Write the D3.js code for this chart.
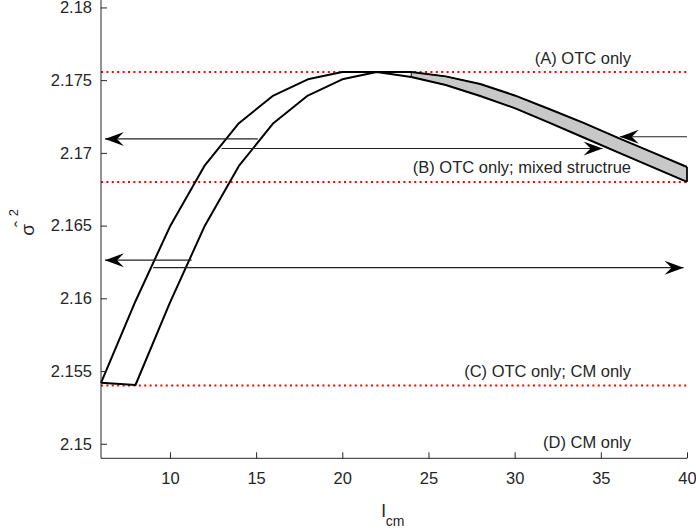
<!DOCTYPE html>
<html>
<head>
<meta charset="utf-8">
<script src="https://cdn.jsdelivr.net/npm/d3@7"></script>
<style>
  body { margin: 0; background: #fff; }
  text { font-family: "Liberation Sans", Arial, Helvetica, sans-serif; fill: #262626; }
</style>
</head>
<body>
<svg width="696" height="529"></svg>
<script>
// band edges
var upperX = [6, 8, 10, 12, 14, 16, 18, 20, 22, 24, 26, 28, 30, 32, 34, 36, 38, 40];
var upperY = [2.15419, 2.1598, 2.16493, 2.1691, 2.17204, 2.17394, 2.17506, 2.17556, 2.17556,
              2.17556, 2.17526, 2.17474, 2.17395, 2.17302, 2.17206, 2.17103, 2.17003, 2.16903];
var lowerX = [8, 10, 12, 14, 16, 18, 20, 22, 24, 26, 28, 30, 32, 34, 36, 38, 40];
var lowerY = [2.15404, 2.1597, 2.16493, 2.1691, 2.17204, 2.17394, 2.17506, 2.17556,
              2.17522, 2.17467, 2.17391, 2.17308, 2.17208, 2.17106, 2.17004, 2.16902, 2.16801];
var shadeFrom = 24;

var levels = [2.17556, 2.1680, 2.1540];
var regionLabels = ["(A) OTC only", "(B) OTC only; mixed structrue", "(C) OTC only; CM only", "(D) CM only"];

// arrows: [x tail, y tail, x tip, y tip]
var arrows = [
  [15.1, 2.17096, 6.23, 2.17096],
  [40, 2.17111, 36.1, 2.17111],
  [13.0, 2.1703, 35.1, 2.1703],
  [11.26, 2.16262, 6.23, 2.16262],
  [9.03, 2.16211, 39.8, 2.16211]
];

var xTicks = [10, 15, 20, 25, 30, 35, 40];
var yTicks = [2.15, 2.155, 2.16, 2.165, 2.17, 2.175, 2.18];

var svg = d3.select("svg");
var x = d3.scaleLinear().domain([6, 40]).range([101, 687]);
var y = d3.scaleLinear().domain([2.149, 2.181]).range([458.3, -7.1]);

var up = upperX.map(function(d, i) { return [d, upperY[i]]; });
var lo = lowerX.map(function(d, i) { return [d, lowerY[i]]; });

var line = d3.line().x(function(d) { return x(d[0]); }).y(function(d) { return y(d[1]); });

// gray part of the band
var shade = up.filter(function(d) { return d[0] >= shadeFrom; })
  .concat(lo.filter(function(d) { return d[0] >= shadeFrom; }).reverse());
svg.append("path")
  .attr("d", line(shade) + "Z")
  .style("fill", "#c8c8c8")
  .style("stroke", "#000")
  .style("stroke-width", 1);

// red dotted levels
svg.selectAll(".level")
  .data(levels)
  .enter().append("line")
    .attr("x1", x(6)).attr("x2", x(40))
    .attr("y1", function(d) { return y(d); })
    .attr("y2", function(d) { return y(d); })
    .style("stroke", "red")
    .style("stroke-width", 2)
    .style("stroke-dasharray", "2,3.4");

// band outline
svg.append("path")
  .attr("d", line([up[0]].concat(lo)))
  .style("fill", "none").style("stroke", "#000").style("stroke-width", 2)
  .style("stroke-linejoin", "round");
svg.append("path")
  .attr("d", line(up))
  .style("fill", "none").style("stroke", "#000").style("stroke-width", 2)
  .style("stroke-linejoin", "round");
svg.append("line")
  .attr("x1", x(40)).attr("x2", x(40))
  .attr("y1", y(upperY[upperY.length - 1])).attr("y2", y(lowerY[lowerY.length - 1]))
  .style("stroke", "#000").style("stroke-width", 1.5);

// arrows
svg.append("defs").append("marker")
  .attr("id", "head")
  .attr("markerUnits", "userSpaceOnUse")
  .attr("markerWidth", 24).attr("markerHeight", 20)
  .attr("viewBox", "-21 -10 24 20")
  .attr("refX", 0).attr("refY", 0)
  .attr("orient", "auto")
  .append("path")
    .attr("d", "M0,0L-19,-7L-12,0L-19,7Z")
    .style("fill", "#000");

svg.selectAll(".arrow")
  .data(arrows)
  .enter().append("line")
    .attr("x1", function(d) { return x(d[0]); })
    .attr("y1", function(d) { return y(d[1]); })
    .attr("x2", function(d) { return x(d[2]); })
    .attr("y2", function(d) { return y(d[3]); })
    .style("stroke", "#222")
    .style("stroke-width", 1.2)
    .attr("marker-end", "url(#head)");

// region labels
svg.selectAll(".lab")
  .data(regionLabels)
  .enter().append("text")
    .attr("x", 631)
    .attr("y", function(d, i) { return i < levels.length ? y(levels[i]) - 8.5 : 448; })
    .attr("text-anchor", "end")
    .style("font-size", "16.5px")
    .text(function(d) { return d; });

// axes
var yAxis = d3.axisLeft(y).tickValues(yTicks).tickSize(-6).tickSizeOuter(0).tickPadding(9)
  .tickFormat(function(d) { return String(+d.toFixed(3)); });
var xAxis = d3.axisBottom(x).tickValues(xTicks).tickSize(-6).tickSizeOuter(0).tickPadding(14);

var gy = svg.append("g").attr("transform", "translate(101,0)").call(yAxis);
var gx = svg.append("g").attr("transform", "translate(0,458.3)").call(xAxis);
[gx, gy].forEach(function(g) {
  g.select(".domain").style("stroke", "#262626");
  g.selectAll(".tick line").style("stroke", "#262626");
  g.selectAll("text").style("font-size", "16.5px").style("font-family", "'Liberation Sans', Arial, sans-serif").attr("fill", "#262626");
});
gx.select(".domain").attr("d", "M101,0H687");
gy.select(".domain").attr("d", "M0,458.3V-10");

// axis labels
var xl = svg.append("text").attr("x", 393).attr("y", 517).attr("text-anchor", "middle").style("font-size", "19px");
xl.append("tspan").text("l");
xl.append("tspan").attr("dy", 9).style("font-size", "14px").text("cm");

var yl = svg.append("g").attr("transform", "translate(33.5,232) rotate(-90)");
yl.append("text").attr("x", 2).attr("y", 0).attr("text-anchor", "middle").style("font-size", "19px").text("\u03C3");
yl.append("text").attr("x", 8).attr("y", -6).attr("text-anchor", "middle").style("font-size", "19px").text("\u02C6");
yl.append("text").attr("x", 19.5).attr("y", -15.5).attr("text-anchor", "middle").style("font-size", "13px").text("2");
</script>
</body>
</html>
